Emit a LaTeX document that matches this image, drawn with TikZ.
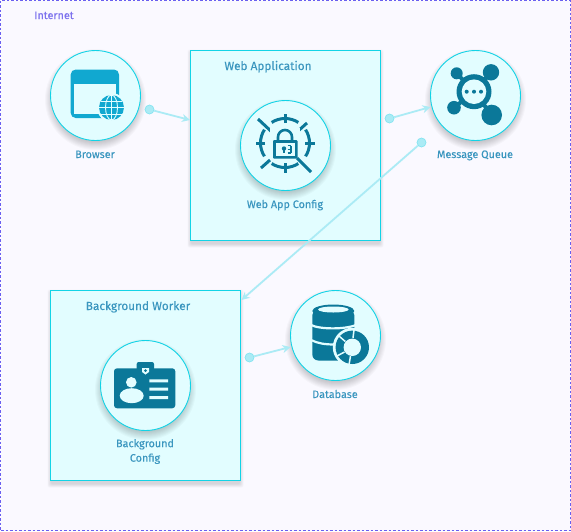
\documentclass[tikz,border=0pt]{standalone}
\usepackage{fontspec}
\setmainfont[FakeBold=0.2]{Fira Sans}
\usetikzlibrary{arrows.meta}
\definecolor{pagebg}{HTML}{FAF9FF}
\definecolor{frameln}{HTML}{6A5FF0}
\definecolor{inettxt}{HTML}{7D72EE}
\definecolor{boxfill}{HTML}{E2FDFF}
\definecolor{boxln}{HTML}{12D3E6}
\definecolor{lbl}{HTML}{3A96BF}
\definecolor{conn}{HTML}{ABEBF5}
\definecolor{iconA}{HTML}{0B7899}
\definecolor{iconB}{HTML}{11A8D0}
\tikzset{
  frame/.style={draw=frameln,fill=pagebg,dash pattern=on 2.5pt off 2pt,line width=.9pt},
  boxn/.style={draw=boxln,fill=boxfill,line width=.9pt,minimum width=190pt,minimum height=190pt,inner sep=0pt,rectangle},
  circn/.style={draw=boxln,fill=boxfill,line width=.9pt,minimum size=90pt,inner sep=0pt,circle},
  lab/.style={text=lbl,font=\fontsize{10.8}{14.5}\selectfont,align=center,inner sep=0pt},
  title/.style={text=lbl,font=\fontsize{11.8}{14}\selectfont,inner sep=0pt,anchor=base},
  dotn/.style={circle,fill=conn,draw=conn!75!boxln,line width=.7pt,minimum size=9pt,inner sep=0pt},
  link/.style={conn,line width=1.8pt,-{Stealth[length=8pt,width=8pt,inset=2.5pt]}},
}
\newcommand{\softcirc}[2]{\foreach \k in {1,...,10}{\fill[black,opacity=.022] (#1,#2+4) circle ({45.5-5+\k});}}
\newcommand{\softbox}[4]{\foreach \k in {1,...,6}{\fill[black,opacity=.022,rounded corners=2pt] (#1-\k/1.5+1,#2-\k/1.5+3) rectangle (#3+\k/1.5-1,#4+\k/1.5+3);}}
\begin{document}
\begin{tikzpicture}[x=1pt,y=-1pt]
\useasboundingbox (0,0) rectangle (571,531);
\path[frame] (.5,.5) rectangle (570.5,530.5);
\node[text=inettxt,font=\fontsize{10.8}{13}\selectfont,inner sep=0pt,anchor=base] (inet) at (54,19) {Internet};
% boxes
\softbox{190.5}{50.5}{380.5}{240.5}
\softbox{50.5}{290.5}{240.5}{480.5}
\node[boxn] (web) at (285.5,145.5) {};
\node[boxn] (bg) at (145.5,385.5) {};
\node[title] (webt) at (268,70) {Web Application};
\node[title] (bgt) at (138,310) {Background Worker};
% circles
\softcirc{95.5}{95.5}\softcirc{285.5}{145.5}\softcirc{475.5}{95.5}\softcirc{145.5}{385.5}\softcirc{335.5}{335.5}
\node[circn] (browser) at (95.5,95.5) {};
\node[circn] (cfg) at (285.5,145.5) {};
\node[circn] (mq) at (475.5,95.5) {};
\node[circn] (bcfg) at (145.5,385.5) {};
\node[circn] (db) at (335.5,335.5) {};
\node[lab,anchor=base] (browserl) at (95,158) {Browser};
\node[lab,anchor=base] (cfgl) at (285,208) {Web App Config};
\node[lab,anchor=base] (mql) at (475,158) {Message Queue};
\node[lab,anchor=base] (dbl) at (335,398) {Database};
\node[lab] (bcfgl) at (145,451.5) {Background\\Config};
% connectors
\node[dotn] (d1) at (149.5,109.5) {};
\node[dotn] (d2) at (389.5,118.5) {};
\node[dotn] (d3) at (421.5,142.5) {};
\node[dotn] (d4) at (249.5,357.5) {};
\coordinate (e1) at (190,120);
\coordinate (e2) at (430.5,107);
\coordinate (e3) at (241.5,300);
\coordinate (e4) at (290.5,347);
\draw[link] (d1) -- (e1);
\draw[link] (d2) -- (e2);
\draw[link] (d3) -- (e3);
\draw[link] (d4) -- (e4);
% browser icon
\fill[iconB,rounded corners=5pt] (70.7,69.5) rectangle (119,118);
\fill[boxfill] (74,83.5) rectangle (115.5,113.5);
\fill[boxfill] (111.5,107.5) circle (14.5);
\fill[iconB] (111.5,107.5) circle (12.5);
\draw[boxfill,line width=.9pt] (111.5,107.5) ellipse (6 and 12.5);
\draw[boxfill,line width=.9pt] (111.5,95) -- (111.5,120) (99,107.5) -- (124,107.5);
\draw[boxfill,line width=.9pt] (101,101) -- (122,101) (101,114) -- (122,114);
% lock icon
\begin{scope}[iconA,line width=3pt]
\foreach \a in {0,90,180,270}{
  \draw (285,143) ++(\a-33:24.5) arc[start angle=\a-33,end angle=\a+33,radius=24.5];
  \draw (285,143) ++(\a:20) -- ++(\a:9.5);
}
\draw (258,119) -- (273,133) (297,158) -- (311,172) (307,123) -- (297,132) (270,160) -- (261,168);
\fill[boxfill] (270,128) rectangle (300,139);
\draw[line width=2.6pt] (278,141) -- (278,137) arc[start angle=180,end angle=360,radius=7] -- (292,141);
\fill[rounded corners=1pt] (273,140) rectangle (297.5,158.5);
\fill[boxfill] (276,143) rectangle (294.5,155.5);
\fill (284,148.5) circle (2.2);
\draw[line width=1.2pt] (284,149) -- (284,153);
\draw[line width=1.3pt] (287.5,145.8) -- (291,145.8) (291,145.8) -- (291,153) (287.5,149.5) -- (291,149.5) (287.5,153) -- (291,153);
\end{scope}
% queue icon
\begin{scope}[iconA]
\draw[line width=4pt] (456.7,73.3) -- (474,91.7) (491,72.3) -- (474,91.7) (491.7,115) -- (474,91.7) (454,107.7) -- (474,91.7);
\fill (456.7,73.3) circle (6);
\fill (491,72.3) circle (8.2);
\fill (491.7,115) circle (10.3);
\fill (454,107.7) circle (6.8);
\fill (474,91.7) circle (17.5);
\fill[boxfill] (474,91.7) circle (12.3);
\fill (466.7,91.7) circle (2) (474,91.7) circle (2) (481,91.7) circle (2);
\end{scope}
% badge icon
\begin{scope}[iconA]
\fill[rounded corners=2pt] (136.7,362) rectangle (154,375);
\fill[rounded corners=3pt] (114,368.3) rectangle (175.3,408.3);
\fill[boxfill] (142,368) -- (149,368) -- (149,372) -- (145.5,374.5) -- (142,372) -- cycle;
\fill (145.5,370.5) circle (1.5);
\fill[boxfill] (131.3,382.3) circle (5.3);
\fill[boxfill] (131.7,395.7) ellipse (12 and 7.5);
\fill[boxfill] (149.3,379.3) rectangle (168,382.3) (149.3,387.6) rectangle (168,390.6) (149.3,396.2) rectangle (168,399.2);
\end{scope}
% database icon
\begin{scope}[iconA]
\fill[rounded corners=4pt] (312.3,311) rectangle (354.3,345);
\fill[rounded corners=6pt] (312.3,335) rectangle (345,360.5);
\fill (333.3,311) ellipse (21 and 6.5);
\fill[boxfill] (333.3,309.5) ellipse (15.3 and 3);
\draw[boxfill,line width=2.2pt] (311,325) .. controls (320,329.5) and (345,329.5) .. (356,325);
\draw[boxfill,line width=2.2pt] (311,340) .. controls (318,343.5) and (325,344.5) .. (335,344.5);
\fill[boxfill] (352.3,347.3) circle (19.5);
\fill (352.3,347.3) circle (16.7);
\fill[boxfill] (352.3,347.3) circle (8.7);
\draw[boxfill,line width=1.5pt] (345.3,341.5) -- (339,336) (353,338) -- (354,330) (344.5,352) -- (337,356) (350.5,356) -- (349,365);
\end{scope}
\end{tikzpicture}
\end{document}
